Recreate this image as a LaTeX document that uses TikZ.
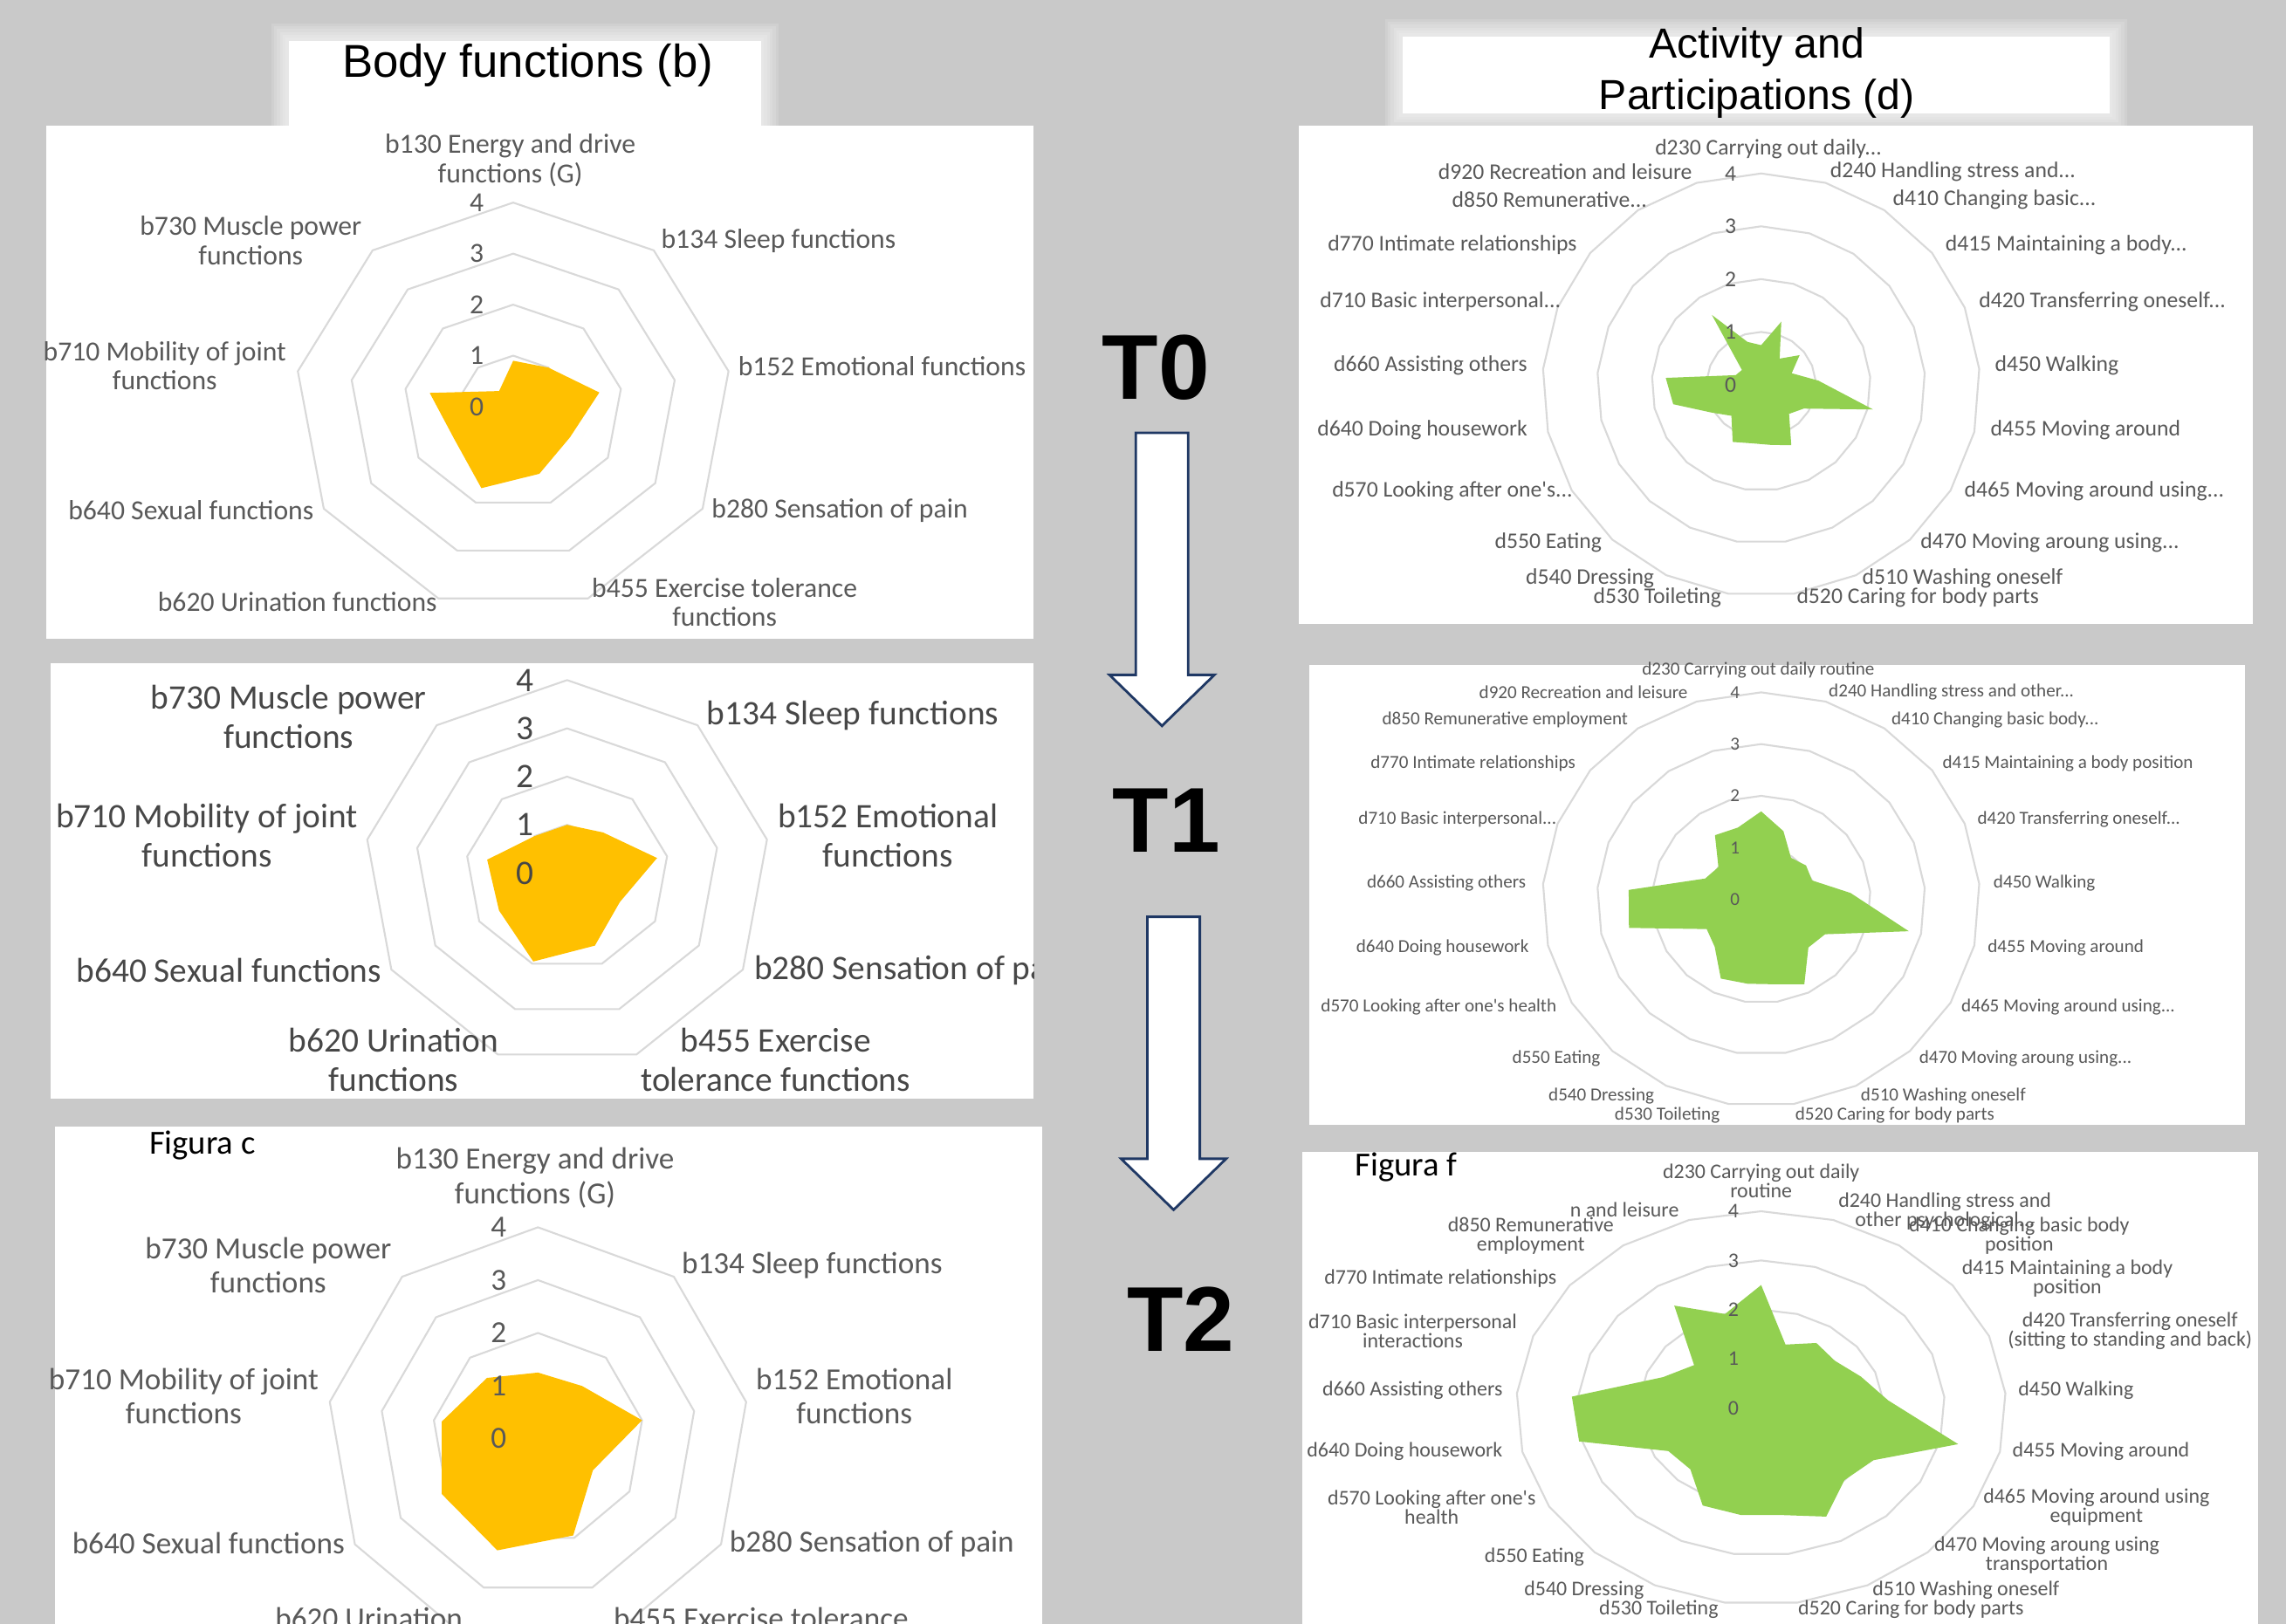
\documentclass[tikz,border=0pt]{standalone}
\usepackage{fontspec}
\setmainfont{Liberation Sans}
\newfontfamily\chartfont{Carlito}
\usetikzlibrary{calc}
\definecolor{bggray}{HTML}{C9C9C9}
\definecolor{ringgray}{HTML}{D9D9D9}
\definecolor{lblgray}{HTML}{595959}
\definecolor{mlgray}{HTML}{474747}
\definecolor{bodyyellow}{HTML}{FFC000}
\definecolor{actgreen}{HTML}{92D050}
\definecolor{arrownavy}{HTML}{1F3864}

% rings 1..4 of a radar chart: cx, cy, unit x, unit y, axes
\newcommand{\radargrid}[5]{%
  \foreach \r in {1,...,4}{%
    \draw[ring] ({#1},{#2-\r*#4}) \foreach \k in {1,...,#5}{ -- ({#1+\r*#3*cos(-90+\k*360/#5)},{#2+\r*#4*sin(-90+\k*360/#5)}) } -- cycle;
  }%
}
% data polygon: cx, cy, unit x, unit y, axes, first value, other values, style
\newcommand{\radardata}[8]{%
  \fill[#8] ({#1},{#2-#6*#4}) \foreach \v [count=\k] in {#7}{ -- ({#1+\v*#3*cos(-90+\k*360/#5)},{#2+\v*#4*sin(-90+\k*360/#5)}) } -- cycle;
}
% scale values 0..4: x, cy, unit y, style, prefix
\newcommand{\radarticks}[5]{%
  \foreach \r in {0,...,4}{ \node[#4] (#5tick\r) at ({#1},{#2-\r*#3}) {\r}; }%
}
% hollow block arrow hanging from a coordinate
\newcommand{\blockarrow}[1]{%
  \draw[blockarr] (#1) ++(-18,0) -- ++(36,0) -- ++(0,166) -- ++(18,0) -- ++(-36,35) -- ++(-36,-35) -- ++(18,0) -- cycle;
}

\begin{document}
\begin{tikzpicture}[x=0.0167cm, y=-0.0167cm,
  ring/.style={draw=ringgray, line width=0.6pt, line join=round},
  panel/.style={fill=white},
  titlebox/.style={fill=white},
  bodyfill/.style={fill=bodyyellow},
  actfill/.style={fill=actgreen},
  blockarr/.style={draw=arrownavy, fill=white, line width=0.8pt, line join=miter},
  titlelbl/.style={font=\fontsize{15}{17}\selectfont, align=center, inner sep=0pt},
  timelbl/.style={font=\bfseries\fontsize{30}{30}\selectfont, inner sep=0pt},
  figlbl/.style={font=\chartfont\fontsize{11}{12}\selectfont, anchor=west, inner sep=0pt},
  lbltl/.style={font=\chartfont\fontsize{9}{9.5}\selectfont, text=lblgray, align=center, inner sep=0pt},
  lblml/.style={font=\chartfont\fontsize{11.2}{12.8}\selectfont, text=mlgray, align=center, inner sep=0pt},
  lblbl/.style={font=\chartfont\fontsize{10}{11.2}\selectfont, text=lblgray, align=center, inner sep=0pt},
  lbltr/.style={font=\chartfont\fontsize{7.3}{8}\selectfont, text=lblgray, align=center, inner sep=0pt},
  lblmr/.style={font=\chartfont\fontsize{6}{6.5}\selectfont, text=lblgray, align=center, inner sep=0pt},
  lblbr/.style={font=\chartfont\fontsize{6.8}{6.2}\selectfont, text=lblgray, align=center, inner sep=0pt}
]
\useasboundingbox (0,0) rectangle (1568,1114);
\clip (0,0) rectangle (1568,1114);
\fill[bggray] (0,0) rectangle (1568,1114);

% titles, with soft edges
\foreach \o in {12,10,8,6,4,2}{
  \fill[white, opacity=0.14] (198-\o,28-\o) rectangle (522+\o,86);
  \fill[white, opacity=0.14] (962-\o,25-\o) rectangle (1447+\o,78+\o);
}
\fill[titlebox] (198,28) rectangle (522,86);
\fill[titlebox] (962,25) rectangle (1447,78);
\node[titlelbl] (bodytitle) at (362,45) {Body functions (b)};
\node[titlelbl, font=\fontsize{13.7}{16.6}\selectfont] (acttitle) at (1205,50) {Activity and\\Participations (d)};

% panels
\fill[panel] (32,86) rectangle (709,438);
\fill[panel] (891,86) rectangle (1545,428);
\fill[panel] (35,455) rectangle (709,754);
\fill[panel] (898,456) rectangle (1540,772);
\fill[panel] (38,773) rectangle (715,1114);
\fill[panel] (893,790) rectangle (1549,1114);

% T0 body functions
\radargrid{352}{279}{37.5}{35}{9}
\radardata{352}{279}{37.5}{35}{9}{0.9}{1.0,1.6,1.2,1.4,1.7,1.25,1.55,0.4}{bodyfill}
\radarticks{327}{279}{35}{lbltl}{tl}
\node[lbltl] (tlb130) at (350,110) {b130 Energy and drive\\functions (G)};
\node[lbltl] (tlb134) at (534,165) {b134 Sleep functions};
\node[lbltl] (tlb152) at (605,251) {b152 Emotional functions};
\node[lbltl] (tlb280) at (576,350) {b280 Sensation of pain};
\node[lbltl] (tlb455) at (497,413) {b455 Exercise tolerance\\functions};
\node[lbltl] (tlb620) at (204,413) {b620 Urination functions};
\node[lbltl] (tlb640) at (131,350) {b640 Sexual functions};
\node[lbltl] (tlb710) at (113,251) {b710 Mobility of joint\\functions};
\node[lbltl] (tlb730) at (172,165) {b730 Muscle power\\functions};

% T1 body functions
\begin{scope}
  \clip (35,455) rectangle (709,754);
  \radargrid{389}{599}{34.8}{33.1}{9}
  \radardata{389}{599}{34.8}{33.1}{9}{1.0}{1.1,1.8,1.2,1.6,1.95,1.55,1.6,1.0}{bodyfill}
  \radarticks{360}{599}{33.1}{lblml}{ml}
  \node[lblml] (mlb730) at (198,492) {b730 Muscle power\\functions};
  \node[lblml] (mlb134) at (585,491) {b134 Sleep functions};
  \node[lblml] (mlb710) at (142,573) {b710 Mobility of joint\\functions};
  \node[lblml] (mlb152) at (609,573) {b152 Emotional\\functions};
  \node[lblml] (mlb640) at (157,666) {b640 Sexual functions};
  \node[lblml, anchor=west] (mlb280) at (517,666) {b280 Sensation of pain};
  \node[lblml] (mlb620) at (270,727) {b620 Urination\\functions};
  \node[lblml] (mlb455) at (532,727) {b455 Exercise\\tolerance functions};
\end{scope}

% T2 body functions
\radargrid{369}{987}{36.25}{36.25}{9}
\radardata{369}{987}{36.25}{36.25}{9}{1.25}{1.3,2.0,1.2,1.95,2.25,2.1,1.85,1.5}{bodyfill}
\radarticks{342}{987}{36.25}{lblbl}{bl}
\node[figlbl] (figc) at (102,786) {Figura c};
\node[lblbl] (blb130) at (367,808) {b130 Energy and drive\\functions (G)};
\node[lblbl] (blb730) at (184,868) {b730 Muscle power\\functions};
\node[lblbl] (blb134) at (557,868) {b134 Sleep functions};
\node[lblbl] (blb710) at (126,958) {b710 Mobility of joint\\functions};
\node[lblbl] (blb152) at (586,958) {b152 Emotional\\functions};
\node[lblbl] (blb640) at (143,1059) {b640 Sexual functions};
\node[lblbl] (blb280) at (598,1059) {b280 Sensation of pain};
\node[lblbl] (blb620) at (253,1122) {b620 Urination\\functions};
\node[lblbl] (blb455) at (522,1122) {b455 Exercise tolerance\\functions};

% T0 activity and participation
\radargrid{1208}{264}{37.5}{36.25}{21}
\radardata{1208}{264}{37.5}{36.25}{21}{0.75}{1.25,0.6,0.9,0.6,1.05,2.1,0.9,0.75,1.27,1.15,1.12,1.2,0.8,1.05,1.65,1.75,0.5,0.45,1.6,0.85}{actfill}
\radarticks{1187}{264}{36.25}{lbltr}{tr}
\node[lbltr] (trd230) at (1213,102) {d230 Carrying out daily...};
\node[lbltr, anchor=east] (trd920) at (1161,118) {d920 Recreation and leisure};
\node[lbltr, anchor=west] (trd240) at (1255,118) {d240 Handling stress and...};
\node[lbltr, anchor=east] (trd850) at (1130,137) {d850 Remunerative...};
\node[lbltr, anchor=west] (trd410) at (1298,137) {d410 Changing basic...};
\node[lbltr, anchor=east] (trd770) at (1082,168) {d770 Intimate relationships};
\node[lbltr, anchor=west] (trd415) at (1334,168) {d415 Maintaining a body...};
\node[lbltr, anchor=east] (trd710) at (1071,207) {d710 Basic interpersonal...};
\node[lbltr, anchor=west] (trd420) at (1357,207) {d420 Transferring oneself...};
\node[lbltr, anchor=east] (trd660) at (1048,251) {d660 Assisting others};
\node[lbltr, anchor=west] (trd450) at (1368,251) {d450 Walking};
\node[lbltr, anchor=east] (trd640) at (1048,295) {d640 Doing housework};
\node[lbltr, anchor=west] (trd455) at (1365,295) {d455 Moving around};
\node[lbltr, anchor=east] (trd570) at (1079,337) {d570 Looking after one's...};
\node[lbltr, anchor=west] (trd465) at (1347,337) {d465 Moving around using...};
\node[lbltr, anchor=east] (trd550) at (1099,372) {d550 Eating};
\node[lbltr, anchor=west] (trd470) at (1317,372) {d470 Moving aroung using...};
\node[lbltr, anchor=east] (trd540) at (1135,397) {d540 Dressing};
\node[lbltr, anchor=west] (trd510) at (1277,397) {d510 Washing oneself};
\node[lbltr, anchor=east] (trd530) at (1181,410) {d530 Toileting};
\node[lbltr, anchor=west] (trd520) at (1232,410) {d520 Caring for body parts};

% T1 activity and participation
\radargrid{1208}{617}{37.5}{35.5}{21}
\radardata{1208}{617}{37.5}{35.5}{21}{1.7}{1.38,0.97,1.05,1.0,1.64,2.77,1.35,1.27,1.82,1.66,1.65,1.7,1.25,1.15,2.48,2.43,1.1,1.0,1.5,1.45}{actfill}
\radarticks{1190}{617}{35.5}{lblmr}{mr}
\node[lblmr] (mrd230) at (1206,460) {d230 Carrying out daily routine};
\node[lblmr, anchor=east] (mrd920) at (1158,475) {d920 Recreation and leisure};
\node[lblmr, anchor=west] (mrd240) at (1254,475) {d240 Handling stress and other...};
\node[lblmr, anchor=east] (mrd850) at (1117,494) {d850 Remunerative employment};
\node[lblmr, anchor=west] (mrd410) at (1297,494) {d410 Changing basic body...};
\node[lblmr, anchor=east] (mrd770) at (1081,524) {d770 Intimate relationships};
\node[lblmr, anchor=west] (mrd415) at (1332,524) {d415 Maintaining a body position};
\node[lblmr, anchor=east] (mrd710) at (1068,562) {d710 Basic interpersonal...};
\node[lblmr, anchor=west] (mrd420) at (1356,562) {d420 Transferring oneself...};
\node[lblmr, anchor=east] (mrd660) at (1047,606) {d660 Assisting others};
\node[lblmr, anchor=west] (mrd450) at (1367,606) {d450 Walking};
\node[lblmr, anchor=east] (mrd640) at (1049,650) {d640 Doing housework};
\node[lblmr, anchor=west] (mrd455) at (1363,650) {d455 Moving around};
\node[lblmr, anchor=east] (mrd570) at (1068,691) {d570 Looking after one's health};
\node[lblmr, anchor=west] (mrd465) at (1345,691) {d465 Moving around using...};
\node[lblmr, anchor=east] (mrd550) at (1098,726) {d550 Eating};
\node[lblmr, anchor=west] (mrd470) at (1316,726) {d470 Moving aroung using...};
\node[lblmr, anchor=east] (mrd540) at (1135,752) {d540 Dressing};
\node[lblmr, anchor=west] (mrd510) at (1276,752) {d510 Washing oneself};
\node[lblmr, anchor=east] (mrd530) at (1180,765) {d530 Toileting};
\node[lblmr, anchor=west] (mrd520) at (1231,765) {d520 Caring for body parts};

% T2 activity and participation
\radargrid{1208}{966}{42}{33.75}{21}
\radardata{1208}{966}{42}{33.75}{21}{2.5}{1.35,1.6,1.54,1.75,2.08,3.3,2.12,2.0,2.45,2.2,2.2,2.2,1.7,1.75,3.05,3.1,1.72,1.4,2.52,2.0}{actfill}
\radarticks{1189}{966}{33.75}{lblbr}{br}
\begin{scope}
  \clip (893,790) rectangle (1549,1114);
  \node[figlbl] (figf) at (929,801) {Figura f};
\end{scope}
\node[lblbr] (brd230) at (1208,810) {d230 Carrying out daily\\routine};
\node[lblbr, anchor=east] (brd920) at (1152,830) {n and leisure};
\node[lblbr] (brd240) at (1334,831) {d240 Handling stress and\\other psychological...};
\node[lblbr] (brd850) at (1050,848) {d850 Remunerative\\employment};
\node[lblbr] (brd410) at (1385,848) {d410 Changing basic body\\position};
\node[lblbr, anchor=east] (brd770) at (1068,877) {d770 Intimate relationships};
\node[lblbr] (brd415) at (1418,877) {d415 Maintaining a body\\position};
\node[lblbr] (brd710) at (969,913) {d710 Basic interpersonal\\interactions};
\node[lblbr] (brd420) at (1461,913) {d420 Transferring oneself\\(sitting to standing and back)};
\node[lblbr, anchor=east] (brd660) at (1031,954) {d660 Assisting others};
\node[lblbr, anchor=west] (brd450) at (1384,954) {d450 Walking};
\node[lblbr, anchor=east] (brd640) at (1031,996) {d640 Doing housework};
\node[lblbr, anchor=west] (brd455) at (1380,996) {d455 Moving around};
\node[lblbr] (brd570) at (982,1034) {d570 Looking after one's\\health};
\node[lblbr] (brd465) at (1438,1034) {d465 Moving around using\\equipment};
\node[lblbr, anchor=east] (brd550) at (1087,1068) {d550 Eating};
\node[lblbr] (brd470) at (1404,1067) {d470 Moving aroung using\\transportation};
\node[lblbr, anchor=east] (brd540) at (1128,1091) {d540 Dressing};
\node[lblbr, anchor=west] (brd510) at (1284,1091) {d510 Washing oneself};
\node[lblbr, anchor=east] (brd530) at (1179,1104) {d530 Toileting};
\node[lblbr, anchor=west] (brd520) at (1233,1104) {d520 Caring for body parts};

% time points
\node[timelbl] (t0) at (793,252) {T0};
\node[timelbl] (t1) at (800,563) {T1};
\node[timelbl] (t2) at (810,905) {T2};
\coordinate (arrone) at (797,297);
\coordinate (arrtwo) at (805,629);
\blockarrow{arrone}
\blockarrow{arrtwo}
\end{tikzpicture}
\end{document}
